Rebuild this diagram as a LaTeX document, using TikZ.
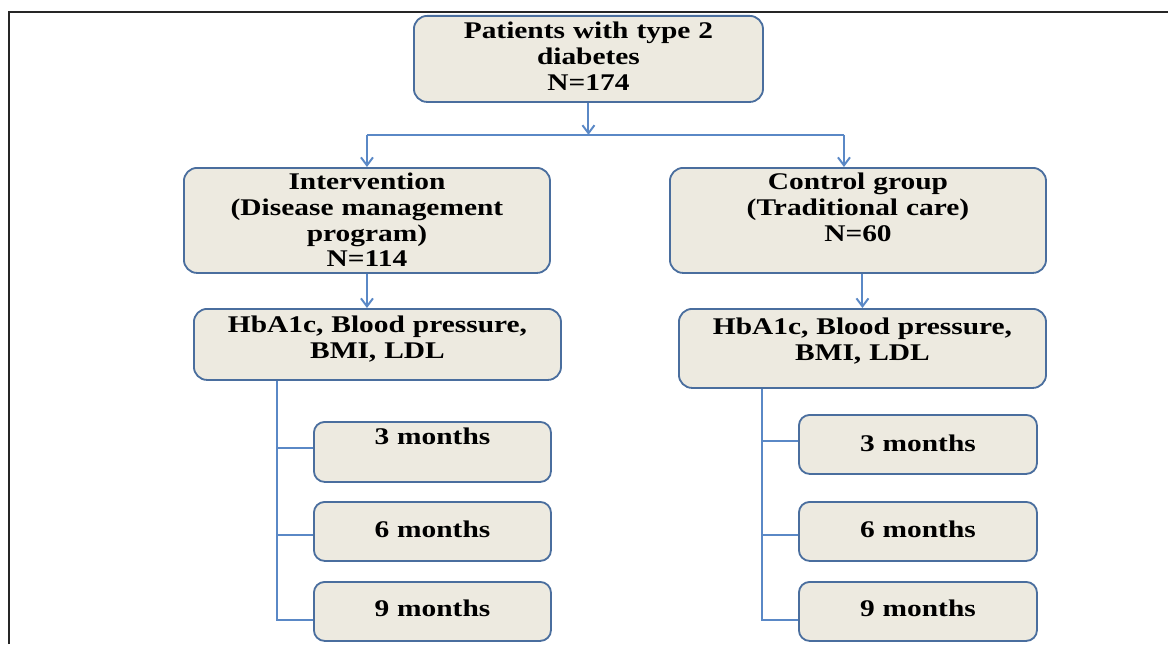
\documentclass[tikz,border=0pt]{standalone}
\usepackage{fontspec}
\setmainfont{Liberation Serif}[FakeStretch=1.23]
\usetikzlibrary{positioning, arrows.meta, calc}
\definecolor{boxfill}{HTML}{EDEAE0}
\definecolor{boxline}{HTML}{4A6E9E}
\definecolor{linkblue}{HTML}{5A88C6}

\begin{document}
\begin{tikzpicture}[
    x=0.025cm, y=-0.025cm,
    % Style for the boxes
    stage/.style={
        rectangle,
        rounded corners=0.33cm,
        draw=boxline,
        line width=1.3pt,
        fill=boxfill,
        inner sep=0pt,
        align=center,
        anchor=north west,
        font=\bfseries\fontsize{17}{18.2}\selectfont
    },
    month/.style={stage, rounded corners=0.27cm},
    link/.style={draw=linkblue, line width=1.4pt},
    arr/.style={link, -{Straight Barb[length=2mm, width=3mm]}}
]

    \useasboundingbox (0,0) rectangle (1168,644);

    % --- Frame ---
    \draw[line width=1.5pt, black!85] (9,644) -- (9,12) -- (1168,12);

    % --- Draw Boxes ---
    \node[stage, text width=8.725cm, text height=0.575cm, text depth=1.575cm] (patients) at (413,15) {Patients with type 2\\diabetes\\N=174};

    \node[stage, text width=9.15cm, text height=0.55cm, text depth=2.075cm] (intervention) at (183,167) {Intervention\\(Disease management\\program)\\N=114};
    \node[stage, text width=9.4cm, text height=0.55cm, text depth=2.075cm] (control) at (669,167) {Control group\\(Traditional care)\\N=60};

    \node[stage, text width=9.175cm, text height=0.6cm, text depth=1.175cm] (measuresL) at (193,308) {HbA1c, Blood pressure,\\BMI, LDL};
    \node[stage, text width=9.175cm, text height=0.65cm, text depth=1.325cm] (measuresR) at (678,308) {HbA1c, Blood pressure,\\BMI, LDL};

    \foreach \m/\ytop/\tht/\tdp in {3/421/0.575/0.925, 6/501/0.9/0.575, 9/581/0.875/0.6} {
        \node[month, text width=5.925cm, text height=\tht cm, text depth=\tdp cm] (monthL\m) at (313,\ytop) {\m\ months};
    }
    \foreach \m/\ytop/\tht/\tdp in {3/414/0.925/0.55, 6/501/0.9/0.575, 9/581/0.875/0.6} {
        \node[month, text width=5.95cm, text height=\tht cm, text depth=\tdp cm] (monthR\m) at (798,\ytop) {\m\ months};
    }

    % --- Draw Split ---
    \coordinate (split) at ($(patients.south)+(0,32)$);
    \coordinate (splitL) at (intervention.north |- split);
    \coordinate (splitR) at ($(control.north |- split)+(-14,0)$);

    \draw[arr] (patients.south) -- (split);
    \draw[link] (splitL) -- (splitR);
    \draw[arr] (splitL) -- (intervention.north);
    \draw[arr] (splitR) -- (splitR |- control.north);

    \draw[arr] (intervention.south) -- (intervention.south |- measuresL.north);
    \draw[arr] (measuresR.north |- control.south) -- (measuresR.north);

    % --- Draw Follow-up Trees ---
    \coordinate (trunkL) at ($(measuresL.south west)+(84,0)$);
    \coordinate (trunkR) at ($(measuresR.south west)+(84,0)$);

    \foreach \m/\dy in {3/-4, 6/3.5, 9/8.5} {
        \coordinate (bL\m) at ($(monthL\m.west)+(0,\dy)$);
        \draw[link] (trunkL |- bL\m) -- (bL\m);
    }
    \foreach \m/\dy in {3/-3.5, 6/3.5, 9/8.5} {
        \coordinate (bR\m) at ($(monthR\m.west)+(0,\dy)$);
        \draw[link] (trunkR |- bR\m) -- (bR\m);
    }
    \draw[link] (trunkL) |- (bL9);
    \draw[link] (trunkR) |- (bR9);

\end{tikzpicture}
\end{document}
